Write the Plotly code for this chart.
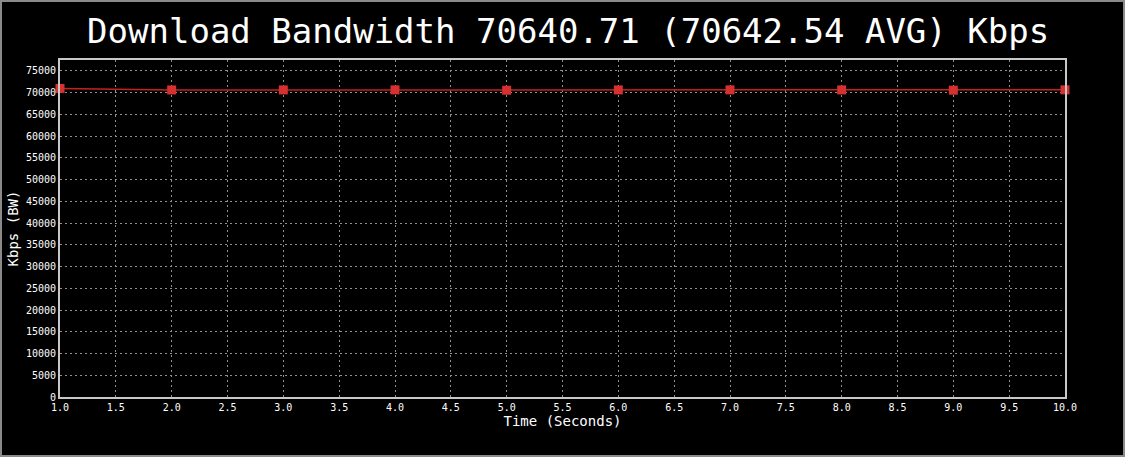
import plotly.graph_objects as go

time_s = [1, 2, 3, 4, 5, 6, 7, 8, 9, 10]
bandwidth_kbps = [70960, 70610, 70620, 70630, 70540, 70620, 70630, 70620, 70560, 70640.71]
y_ticks = list(range(0, 75001, 5000))
y_tick_labels = [str(v) for v in y_ticks]
x_ticks = [1 + 0.5 * i for i in range(19)]
x_tick_labels = [f"{v:.1f}" for v in x_ticks]
title_text = "Download Bandwidth 70640.71 (70642.54 AVG) Kbps"

W, H = 1125, 457
L, R, T, B = 60, 60, 60, 60
pw, ph = W - L - R, H - T - B

fig = go.Figure()
fig.add_trace(go.Scatter(
    x=time_s, y=bandwidth_kbps, mode="lines+markers",
    line=dict(color="#c42222", width=1.5),
    marker=dict(symbol="square", size=9, color="#d63030"),
    cliponaxis=False, showlegend=False,
))

font = "DejaVu Sans Mono"
fig.update_layout(
    width=W, height=H,
    margin=dict(l=L, r=R, t=T, b=B),
    paper_bgcolor="black", plot_bgcolor="black",
    font=dict(family=font, color="white"),
    title=dict(text=title_text, x=0.505, xanchor="center", y=1 - 31 / H, yanchor="middle",
               font=dict(family=font, size=34, color="white")),
    xaxis=dict(range=[1, 10], tickvals=x_ticks, ticktext=x_tick_labels,
               showgrid=True, gridcolor="#8f8f8f", griddash="2px,3px", gridwidth=1,
               showline=True, linecolor="#c8c8c8", linewidth=2, mirror=True,
               zeroline=False, ticks="", tickfont=dict(size=10, family=font, color="white"),
               title=dict(text="Time (Seconds)", font=dict(size=14, family=font), standoff=2)),
    yaxis=dict(range=[0, 77500], tickvals=y_ticks, ticktext=y_tick_labels,
               showgrid=True, gridcolor="#8f8f8f", griddash="2px,3px", gridwidth=1,
               showline=True, linecolor="#c8c8c8", linewidth=2, mirror=True,
               zeroline=False, ticks="", tickfont=dict(size=10, family=font, color="white"),
               title=dict(text="Kbps (BW)", font=dict(size=14, family=font), standoff=4)),
    shapes=[dict(type="rect", xref="paper", yref="paper",
                 x0=(1 - L) / pw, x1=(W - 1 - L) / pw,
                 y0=-(H - 1 - T - ph) / ph, y1=(ph + T - 1) / ph,
                 line=dict(color="#8a8a8a", width=2), layer="above")],
)

fig.write_html("out.html", config={"displayModeBar": False},
               post_script="document.body.style.margin='0';")
